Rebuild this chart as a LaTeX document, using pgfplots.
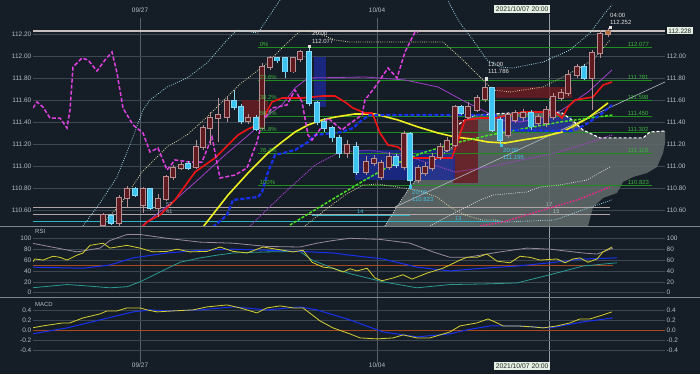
\documentclass[border=0pt]{standalone}
\usepackage{pgfplots}
\pgfplotsset{compat=1.18}
\usepackage{pgfplotstable}
\usepackage{fontspec}
\setmainfont{Liberation Sans}

\definecolor{bg}{HTML}{151E27}
\definecolor{gridc}{HTML}{3E4852}
\definecolor{labc}{HTML}{B4BCC4}
\definecolor{upfill}{HTML}{5E1A1E}
\definecolor{upedge}{HTML}{B89094}
\definecolor{dnfill}{HTML}{3CC4F0}
\definecolor{dnedge}{HTML}{8AD8F4}
\definecolor{redl}{HTML}{F01414}
\definecolor{bluel}{HTML}{1830F0}
\definecolor{yell}{HTML}{F0F020}
\definecolor{grnl}{HTML}{48E020}
\definecolor{magl}{HTML}{E040E0}
\definecolor{purl}{HTML}{A040C8}
\definecolor{fibl}{HTML}{1E8E1E}
\definecolor{fibt}{HTML}{3CB43C}
\definecolor{cloud}{HTML}{606A6A}
\definecolor{dotw}{HTML}{E0E0E0}
\definecolor{doty}{HTML}{E4DCA0}
\definecolor{dotc}{HTML}{A0DCEC}
\definecolor{annc}{HTML}{E0E0E0}
\definecolor{cyant}{HTML}{40C4E4}
\definecolor{hl}{HTML}{B0A4A4}
\definecolor{cyl}{HTML}{2CB4C4}
\definecolor{boxc}{HTML}{E4F0E4}
\definecolor{vgrid}{HTML}{56606A}
\definecolor{sepc}{HTML}{7C848C}
\definecolor{mauve}{HTML}{9A8A9E}
\definecolor{teal2}{HTML}{2A9A94}
\definecolor{zeroc}{HTML}{A8481C}
\definecolor{rsiy}{HTML}{D8D030}
\definecolor{pinkd}{HTML}{F0288C}
\definecolor{darkred}{HTML}{6A1C22}
\definecolor{darkblue}{HTML}{1C2A96}
\definecolor{orc}{HTML}{B87030}

\pgfplotstableread{
x o h l c
103 110.464 110.573 110.455 110.555
119 110.482 110.736 110.455 110.709
127 110.709 110.818 110.618 110.791
143 110.645 110.809 110.573 110.791
158 110.618 110.745 110.536 110.700
166 110.700 110.918 110.682 110.900
173 110.900 111.009 110.873 110.982
181 110.982 111.036 110.964 111.009
196 110.991 111.236 110.973 111.173
203 111.173 111.373 111.145 111.345
210 111.345 111.491 111.191 111.436
218 111.436 111.618 111.218 111.464
227 111.445 111.636 111.400 111.591
248 111.409 111.473 111.382 111.436
262 111.345 111.936 111.327 111.900
270 111.900 112.000 111.873 111.982
293 111.855 111.991 111.845 111.982
300 111.973 112.055 111.945 112.036
347 111.118 111.236 111.073 111.191
366 110.945 111.091 110.918 111.036
374 111.027 111.100 111.000 111.064
381 110.900 111.055 110.873 111.027
389 110.991 111.127 110.964 111.082
404 110.991 111.318 110.964 111.291
418 110.873 111.009 110.845 110.982
425 110.936 111.036 110.909 110.991
432 110.982 111.118 110.955 111.082
440 111.082 111.209 111.055 111.173
447 111.145 111.264 111.127 111.227
455 111.191 111.555 111.173 111.536
468 111.445 111.582 111.427 111.536
477 111.509 111.645 111.491 111.618
485 111.609 111.786 111.582 111.709
508 111.282 111.491 111.255 111.464
515 111.418 111.509 111.391 111.482
523 111.445 111.518 111.409 111.482
538 111.391 111.473 111.364 111.445
546 111.391 111.545 111.355 111.509
553 111.445 111.664 111.418 111.627
561 111.618 111.700 111.591 111.664
568 111.664 111.873 111.636 111.827
577 111.827 111.927 111.800 111.900
592 111.800 112.055 111.509 112.027
600 112.027 112.236 111.982 112.200
}\upc

\pgfplotstableread{
x o h l c
111 110.545 110.564 110.464 110.482
135 110.791 110.809 110.718 110.736
150 110.791 110.800 110.600 110.618
188 111.018 111.045 110.964 110.982
234 111.591 111.691 111.509 111.536
241 111.536 111.564 111.382 111.409
256 111.436 111.464 111.318 111.336
277 111.982 111.991 111.936 111.955
285 111.982 111.991 111.800 111.855
309 112.036 112.077 111.545 111.573
317 111.573 111.591 111.373 111.400
324 111.400 111.436 111.309 111.345
332 111.345 111.364 111.218 111.255
339 111.255 111.282 111.073 111.118
356 111.173 111.218 110.918 110.945
396 111.082 111.109 110.982 111.009
410 111.291 111.309 110.823 110.873
461 111.536 111.555 111.464 111.482
492 111.709 111.718 111.309 111.327
500 111.418 111.445 111.195 111.236
531 111.482 111.509 111.327 111.355
584 111.900 111.927 111.782 111.800
}\dnc

\pgfplotstableread{
x o h l c
608 112.200 112.252 112.173 112.228
}\lastc

\pgfplotsset{
  panel/.style={scale only axis, anchor=south west, width=632bp, xmin=33, xmax=665,
    axis line style={draw=none}, tick style={draw=none}, xtick=\empty,
    grid style={gridc, line width=0.5bp},
    ticklabel style={font=\fontsize{6.5}{7}\selectfont, text=labc},
    yticklabel style={inner sep=1.5bp},
    clip mode=individual, /pgf/number format/assume math mode=true, scaled y ticks=false},
  dl/.style={line width=0.8bp, dash pattern=on 0.8bp off 1.4bp},
  wick/.style={draw=none, forget plot, error bars/.cd, y dir=minus, y explicit, error mark=none,
    error bar style={draw=#1, line width=0.8bp, solid}},
  body/.style 2 args={draw=none, forget plot, error bars/.cd, y dir=minus, y explicit, error mark=none,
    error bar style={draw=#1, line width=#2, line cap=butt, solid}},
}
\tikzset{fibL/.style={anchor=south west, inner sep=0.6bp, text=fibt, font=\fontsize{6}{6.5}\selectfont}}
\newcommand{\af}{\fontsize{6}{6.5}\selectfont}

\begin{document}
\begin{tikzpicture}[x=1bp,y=1bp]
\fill[bg] (0,0) rectangle (700,374);
% vertical date lines
\draw[vgrid, line width=0.6bp] (140,12) -- (140,356);
\draw[vgrid, line width=0.6bp] (377,12) -- (377,356);
\draw[color=sepc!80, line width=0.6bp] (549,12) -- (549,360);

% ================= MAIN PANEL =================
\begin{axis}[panel, at={(33bp,148bp)}, height=226bp, ymin=110.4545, ymax=112.5091,
  ytick={110.6,110.8,111.0,111.2,111.4,111.6,111.8,112.0,112.2}, ymajorgrids,
  /pgf/number format/fixed, /pgf/number format/fixed zerofill, /pgf/number format/precision=2]

% cloud
\addplot[fill=cloud, draw=none, fill opacity=0.88] coordinates {(385,110.455)(398,110.645)(410,110.809)(422,110.936)(435,111.055)(452,111.173)(458,111.264)(465,111.418)(475,111.464)(512,111.482)(538,111.491)(562,111.482)(572,111.418)(583,111.327)(600,111.255)(643,111.255)(650,111.309)(665,111.318)(665,111.209)(663,111.118)(657,110.991)(647,110.936)(633,110.900)(623,110.855)(617,110.755)(603,110.709)(593,110.627)(588,110.455)} -- cycle;
% shaded zones
\addplot[fill=darkred, draw=none, fill opacity=0.85] coordinates {(453,111.418)(478,111.418)(478,110.845)(453,110.845)} -- cycle;
\addplot[fill=darkred, draw=none, fill opacity=0.85] coordinates {(496,111.718)(572,111.718)(572,111.618)(496,111.618)} -- cycle;
\addplot[fill=darkred, draw=none, fill opacity=0.85] coordinates {(242,111.600)(268,111.600)(268,111.436)(242,111.436)} -- cycle;
\addplot[fill=darkblue, draw=none, fill opacity=0.8] coordinates {(355,111.145)(455,111.145)(455,110.873)(355,110.873)} -- cycle;
\addplot[fill=darkblue, draw=none, fill opacity=0.8] coordinates {(498,111.445)(572,111.445)(572,111.309)(498,111.309)} -- cycle;
\addplot[fill=darkblue, draw=none, fill opacity=0.8] coordinates {(314,111.991)(326,111.991)(326,111.536)(314,111.536)} -- cycle;

% horizontal lines
\addplot[color=hl!70!white, line width=1.4bp] coordinates {(33,112.228)(665,112.228)};
\addplot[color=hl, line width=1bp] coordinates {(33,110.621)(610,110.621)};
\addplot[color=hl, line width=1bp] coordinates {(33,110.561)(610,110.561)};
\addplot[color=cyl, line width=1.2bp] coordinates {(33,110.494)(503,110.494)};
\addplot[color=cyl, line width=1bp] coordinates {(312,110.552)(410,110.552)};
% fibonacci
\addplot[fibl, line width=0.7bp] coordinates {(258,112.077)(652,112.077)};
\addplot[fibl, line width=0.7bp] coordinates {(258,111.781)(652,111.781)};
\addplot[fibl, line width=0.7bp] coordinates {(258,111.598)(652,111.598)};
\addplot[fibl, line width=0.7bp] coordinates {(258,111.450)(652,111.450)};
\addplot[fibl, line width=0.7bp] coordinates {(258,111.302)(652,111.302)};
\addplot[fibl, line width=0.7bp] coordinates {(258,111.118)(652,111.118)};
\addplot[fibl, line width=0.7bp] coordinates {(258,110.823)(652,110.823)};

% trend line
\addplot[color=labc, line width=0.6bp] coordinates {(395,110.627)(665,111.764)};

% bands
\addplot[dotc, dl] coordinates {(83,110.455)(100,110.664)(117,110.900)(133,111.264)(143,111.509)(150,111.600)(167,111.718)(187,111.800)(207,111.936)(227,112.145)(237,112.236)(258,112.209)(270,112.373)(280,112.509)(300,112.736)(440,112.691)(450,112.464)(460,112.300)(473,112.145)(487,111.964)(500,111.900)(513,111.891)(543,111.945)(570,112.055)(590,112.209)(605,112.391)(612,112.464)};
\addplot[doty, dl] coordinates {(100,110.455)(120,110.645)(142,110.945)(167,111.173)(187,111.282)(207,111.445)(240,111.745)(265,111.918)(285,112.100)(300,112.227)(315,112.218)(335,112.145)(350,112.127)(443,112.127)(463,111.964)(480,111.809)(493,111.691)(510,111.673)(543,111.718)(567,111.827)(593,111.964)(610,112.145)};
\addplot[doty, dl] coordinates {(305,110.455)(325,110.600)(345,110.736)(363,110.827)(377,110.836)(397,110.809)(417,110.782)(437,110.718)(450,110.627)(465,110.555)(482,110.509)(495,110.509)(505,110.491)};
\addplot[dotc, dl] coordinates {(505,110.491)(555,110.509)(588,110.618)(612,110.691)};
\addplot[dotw, dl] coordinates {(430,110.455)(460,110.600)(480,110.691)(493,110.736)(527,110.764)(540,110.809)(560,110.827)(587,110.873)(610,110.991)};
\addplot[pinkd, line width=1.5bp, dash pattern=on 1.5bp off 1.5bp] coordinates {(480,110.455)(503,110.491)(543,110.600)(577,110.691)(610,110.809)};
% purple lines
\addplot[purl, line width=0.8bp] coordinates {(143,110.464)(175,110.691)(200,110.891)(225,111.100)(252,111.309)(268,111.464)(282,111.555)(295,111.709)(308,111.800)(365,111.809)(405,111.782)(438,111.718)(462,111.600)(488,111.482)(502,111.418)(520,111.400)(545,111.445)(562,111.509)(588,111.673)(612,111.873)};
\addplot[purl, line width=1bp, dash pattern=on 1bp off 1bp] coordinates {(250,110.455)(282,110.736)(315,111.009)(340,111.127)(370,111.145)(410,111.082)(455,110.945)(488,110.991)(522,111.055)(555,111.118)(588,111.209)(612,111.282)};
% cloud edges
\addplot[dotw, dl] coordinates {(385,110.455)(398,110.645)(410,110.809)(422,110.936)(435,111.055)(452,111.173)(458,111.264)(465,111.418)};
\addplot[white, line width=1.1bp, dash pattern=on 3bp off 2bp] coordinates {(455,111.355)(465,111.418)(475,111.464)(512,111.482)(538,111.491)(562,111.482)(572,111.418)(583,111.327)(600,111.255)(643,111.255)(650,111.309)(665,111.318)};

% indicator lines
\addplot[yell, line width=1.6bp] coordinates {(203,110.445)(228,110.736)(248,110.936)(268,111.118)(282,111.218)(295,111.309)(308,111.373)(322,111.418)(335,111.445)(355,111.473)(375,111.473)(398,111.418)(418,111.355)(438,111.300)(455,111.264)(472,111.245)(488,111.218)(505,111.209)(522,111.236)(542,111.264)(562,111.309)(572,111.355)(588,111.436)(608,111.573)};
\addplot[grnl, line width=1.5bp, dash pattern=on 3bp off 1.5bp] coordinates {(290,110.464)(328,110.673)(365,110.873)(388,110.991)(422,111.118)(455,111.209)(490,111.282)(527,111.345)(560,111.400)(590,111.436)(613,111.464)};
\addplot[bluel, line width=2.2bp, dash pattern=on 4bp off 2bp] coordinates {(213,110.445)(227,110.555)(233,110.691)(258,110.718)(262,110.764)(268,110.945)(275,111.100)(295,111.145)(308,111.218)(315,111.282)(342,111.309)(353,111.345)(362,111.418)(370,111.464)(495,111.464)(502,111.327)(572,111.318)(585,111.373)(600,111.464)(612,111.555)};
\addplot[redl, line width=1.6bp] coordinates {(140,110.427)(147,110.491)(160,110.555)(175,110.691)(195,110.945)(215,111.073)(228,111.191)(238,111.282)(248,111.336)(258,111.373)(265,111.464)(272,111.582)(282,111.618)(302,111.618)(322,111.636)(335,111.636)(345,111.582)(353,111.527)(365,111.482)(372,111.482)(375,111.418)(380,111.300)(388,111.191)(398,111.173)(405,111.118)(412,111.073)(452,111.073)(458,111.236)(465,111.418)(480,111.436)(495,111.436)(510,111.464)(522,111.491)(555,111.491)(562,111.436)(568,111.536)(575,111.600)(593,111.627)(603,111.736)(612,111.764)};
\addplot[magl, line width=1.5bp, dash pattern=on 4bp off 2bp] coordinates {(33,111.527)(37,111.582)(43,111.536)(50,111.436)(60,111.436)(67,111.345)(70,111.509)(73,111.900)(82,111.982)(88,111.964)(97,111.864)(105,111.964)(112,112.036)(117,111.845)(123,111.527)(133,111.373)(143,111.300)(150,111.127)(158,111.164)(167,110.964)(175,111.055)(190,111.036)(202,111.036)(212,111.264)(220,110.891)(235,110.918)(247,110.982)(257,111.218)(262,111.400)(272,111.527)(287,111.555)(295,111.691)(302,111.582)(308,111.282)(312,111.236)(318,111.309)(328,111.436)(342,111.327)(348,111.373)(362,111.464)(365,111.600)(375,111.718)(388,111.891)(397,111.800)(405,112.036)(415,112.218)(418,112.218)};

% candles: up
\addplot[wick=upedge] table[x=x, y=h, y error minus expr=\thisrow{h}-\thisrow{l}] {\upc};
\addplot[body={upedge}{6.4bp}] table[x=x, y expr=\thisrow{c}+0.005, y error minus expr=\thisrow{c}-\thisrow{o}+0.01] {\upc};
\addplot[body={upfill}{4.8bp}] table[x=x, y=c, y error minus expr=\thisrow{c}-\thisrow{o}] {\upc};
% candles: down
\addplot[wick=dnedge] table[x=x, y=h, y error minus expr=\thisrow{h}-\thisrow{l}] {\dnc};
\addplot[body={dnedge}{6.4bp}] table[x=x, y expr=\thisrow{o}+0.005, y error minus expr=\thisrow{o}-\thisrow{c}+0.01] {\dnc};
\addplot[body={dnfill}{4.8bp}] table[x=x, y=o, y error minus expr=\thisrow{o}-\thisrow{c}] {\dnc};
% last candle
\addplot[wick=upedge] table[x=x, y=h, y error minus expr=\thisrow{h}-\thisrow{l}] {\lastc};
\addplot[body={upedge}{6.4bp}] table[x=x, y expr=\thisrow{c}+0.005, y error minus expr=\thisrow{c}-\thisrow{o}+0.01] {\lastc};
\addplot[body={orc}{4.8bp}] table[x=x, y=c, y error minus expr=\thisrow{c}-\thisrow{o}] {\lastc};

% high/low markers
\addplot[only marks, mark=square*, mark size=1.3bp, color=annc] coordinates {(309,112.090)(486,111.795)(610,112.262)};
\addplot[only marks, mark=square*, mark size=1.3bp, color=cyant] coordinates {(410,110.812)(501,111.190)};

% annotations
\node[anchor=west, inner sep=0, text=annc, font=\af] at (axis cs:312,112.205) {20:00};
\node[anchor=west, inner sep=0, text=annc, font=\af] at (axis cs:312,112.132) {112.077};
\node[anchor=west, inner sep=0, text=annc, font=\af] at (axis cs:488,111.923) {12:00};
\node[anchor=west, inner sep=0, text=annc, font=\af] at (axis cs:488,111.856) {111.786};
\node[anchor=west, inner sep=0, text=annc, font=\af] at (axis cs:610,112.373) {04:00};
\node[anchor=west, inner sep=0, text=annc, font=\af] at (axis cs:610,112.305) {112.252};
\node[anchor=west, inner sep=0, text=cyant, font=\af] at (axis cs:412,110.759) {20:00};
\node[anchor=west, inner sep=0, text=cyant, font=\af] at (axis cs:412,110.695) {110.823};
\node[anchor=west, inner sep=0, text=cyant, font=\af] at (axis cs:503,111.141) {20:00};
\node[anchor=west, inner sep=0, text=cyant, font=\af] at (axis cs:503,111.077) {111.195};
% fib labels
\node[fibL] at (axis cs:259,112.077) {0\%};
\node[fibL] at (axis cs:259,111.781) {23.6\%};
\node[fibL] at (axis cs:259,111.598) {38.2\%};
\node[fibL] at (axis cs:259,111.450) {50.0\%};
\node[fibL] at (axis cs:259,111.302) {61.8\%};
\node[fibL] at (axis cs:259,111.118) {76.4\%};
\node[fibL] at (axis cs:259,110.823) {100\%};
\node[fibL] at (axis cs:627,112.077) {112.077};
\node[fibL] at (axis cs:627,111.781) {111.781};
\node[fibL] at (axis cs:627,111.598) {111.598};
\node[fibL] at (axis cs:627,111.450) {111.450};
\node[fibL] at (axis cs:627,111.302) {111.302};
\node[fibL] at (axis cs:627,111.118) {111.118};
\node[fibL] at (axis cs:627,110.823) {110.823};
% small counters
\node[anchor=west, inner sep=0, text=labc, font=\fontsize{5.5}{6}\selectfont] at (axis cs:166,110.645) {57};
\node[anchor=west, inner sep=0, text=labc, font=\fontsize{5.5}{6}\selectfont] at (axis cs:166,110.582) {41};
\node[anchor=west, inner sep=0, text=cyant, font=\fontsize{5.5}{6}\selectfont] at (axis cs:357,110.582) {14};
\node[anchor=west, inner sep=0, text=cyant, font=\fontsize{5.5}{6}\selectfont] at (axis cs:455,110.518) {13};
\node[anchor=west, inner sep=0, text=labc, font=\fontsize{5.5}{6}\selectfont] at (axis cs:546,110.645) {17};
\node[anchor=west, inner sep=0, text=labc, font=\fontsize{5.5}{6}\selectfont] at (axis cs:553,110.582) {15};
% price box
\node[anchor=west, fill=boxc, text=black!85, inner sep=1.2bp, font=\fontsize{6.5}{7}\selectfont] at (axis cs:667,112.228) {112.228};
\end{axis}
\begin{axis}[panel, at={(33bp,148bp)}, height=226bp, ymin=110.4545, ymax=112.5091,
  ytick={110.6,110.8,111.0,111.2,111.4,111.6,111.8,112.0}, yticklabel pos=right,
  /pgf/number format/fixed, /pgf/number format/fixed zerofill, /pgf/number format/precision=2]
\addplot[draw=none] coordinates {(33,111)};
\end{axis}

% ================= RSI PANEL =================
\begin{axis}[panel, at={(33bp,77bp)}, height=71bp, ymin=-7.9, ymax=122.6,
  ytick={0,20,40,60,80,100}, ymajorgrids]
\addplot[zeroc, line width=0.8bp] coordinates {(33,50)(613,50)};
\addplot[mauve, line width=0.8bp] coordinates {(32,91)(77,75)(100,82)(110,96)(127,107)(140,107)(167,100)(200,93)(233,91)(267,85)(300,84)(317,91)(333,96)(350,100)(380,98)(410,91)(433,75)(450,65)(467,65)(500,75)(527,82)(550,80)(583,73)(597,71)(613,82)};
\addplot[teal2, line width=0.8bp] coordinates {(32,9)(67,15)(83,13)(110,9)(127,11)(140,20)(160,38)(180,56)(200,64)(217,69)(233,73)(267,75)(300,76)(312,60)(333,45)(350,35)(383,20)(417,9)(450,15)(483,16)(517,18)(550,33)(583,49)(617,55)};
\addplot[bluel, line width=1bp] coordinates {(32,47)(83,45)(110,51)(133,64)(167,73)(200,78)(233,80)(267,78)(300,76)(333,73)(350,69)(383,62)(417,47)(450,40)(483,45)(517,49)(550,55)(583,62)(617,64)};
\addplot[rsiy, line width=0.8bp] coordinates {(32,55)(35,62)(43,60)(53,67)(60,65)(67,60)(77,69)(83,73)(90,87)(103,91)(110,82)(127,87)(140,82)(153,75)(167,76)(177,80)(190,75)(207,76)(220,84)(233,76)(247,73)(263,84)(283,78)(293,75)(303,78)(312,56)(323,47)(333,45)(343,38)(350,44)(357,40)(367,45)(375,27)(382,22)(393,27)(403,33)(412,25)(427,36)(443,45)(460,60)(467,65)(477,65)(487,71)(497,58)(510,55)(520,67)(530,65)(540,60)(557,62)(565,55)(573,62)(580,64)(588,56)(597,62)(603,75)(612,84)};
\node[anchor=west, inner sep=0, text=labc, font=\af] at (axis cs:35,113) {RSI};
\end{axis}
\begin{axis}[panel, at={(33bp,77bp)}, height=71bp, ymin=-7.9, ymax=122.6,
  ytick={0,20,40,60,80,100}, yticklabel pos=right]
\addplot[draw=none] coordinates {(33,50)};
\end{axis}

% ================= MACD PANEL =================
\begin{axis}[panel, at={(33bp,12bp)}, height=65bp, ymin=-0.632, ymax=0.668,
  ytick={-0.4,-0.2,0,0.2,0.4}, ymajorgrids,
  /pgf/number format/fixed, /pgf/number format/fixed zerofill, /pgf/number format/precision=1]
\addplot[zeroc, line width=1bp] coordinates {(33,0)(665,0)};
\addplot[bluel, line width=1bp] coordinates {(32,-0.07)(67,0.05)(100,0.21)(133,0.37)(150,0.41)(167,0.39)(200,0.41)(233,0.47)(267,0.41)(300,0.47)(317,0.41)(350,0.21)(383,-0.03)(417,-0.13)(450,-0.07)(467,0.01)(490,0.09)(517,0.09)(550,0.05)(583,0.17)(613,0.25)};
\addplot[rsiy, line width=0.8bp] coordinates {(32,0.05)(43,0.09)(63,0.15)(70,0.15)(83,0.25)(100,0.33)(107,0.39)(117,0.39)(127,0.45)(140,0.45)(147,0.41)(157,0.37)(173,0.39)(193,0.41)(207,0.47)(227,0.51)(240,0.45)(257,0.35)(267,0.45)(280,0.49)(293,0.45)(303,0.45)(320,0.19)(333,0.05)(350,-0.07)(360,-0.15)(377,-0.17)(393,-0.15)(403,-0.09)(417,-0.15)(430,-0.15)(450,-0.03)(460,0.09)(477,0.15)(488,0.23)(497,0.15)(503,0.09)(517,0.09)(533,0.07)(543,0.05)(557,0.09)(570,0.15)(580,0.23)(590,0.23)(603,0.31)(612,0.37)};
\node[anchor=west, inner sep=0, text=labc, font=\af] at (axis cs:35,0.52) {MACD};
\end{axis}
\begin{axis}[panel, at={(33bp,12bp)}, height=65bp, ymin=-0.632, ymax=0.668,
  ytick={-0.4,-0.2,0,0.2,0.4}, yticklabel pos=right,
  /pgf/number format/fixed, /pgf/number format/fixed zerofill, /pgf/number format/precision=1]
\addplot[draw=none] coordinates {(33,0)};
\end{axis}

% separators
\draw[sepc, line width=0.8bp] (0,148) -- (700,148);
\draw[sepc, line width=0.8bp] (0,76.5) -- (700,76.5);

% date labels
\node[text=labc, font=\fontsize{6.5}{7}\selectfont, inner sep=0] at (140,364) {09/27};
\node[text=labc, font=\fontsize{6.5}{7}\selectfont, inner sep=0] at (377,364) {10/04};
\node[text=labc, font=\fontsize{6.5}{7}\selectfont, inner sep=0] at (140,8.5) {09/27};
\node[text=labc, font=\fontsize{6.5}{7}\selectfont, inner sep=0] at (377,8.5) {10/04};
\node[anchor=east, fill=boxc, text=black!85, inner sep=1.3bp, font=\fontsize{6.8}{7.5}\selectfont] at (550,365) {2021/10/07 20:00};
\node[anchor=east, fill=boxc, text=black!85, inner sep=1.3bp, font=\fontsize{6.8}{7.5}\selectfont] at (550,8) {2021/10/07 20:00};

\pgfresetboundingbox
\path[use as bounding box] (0,0) rectangle (700,374);
\end{tikzpicture}
\end{document}
